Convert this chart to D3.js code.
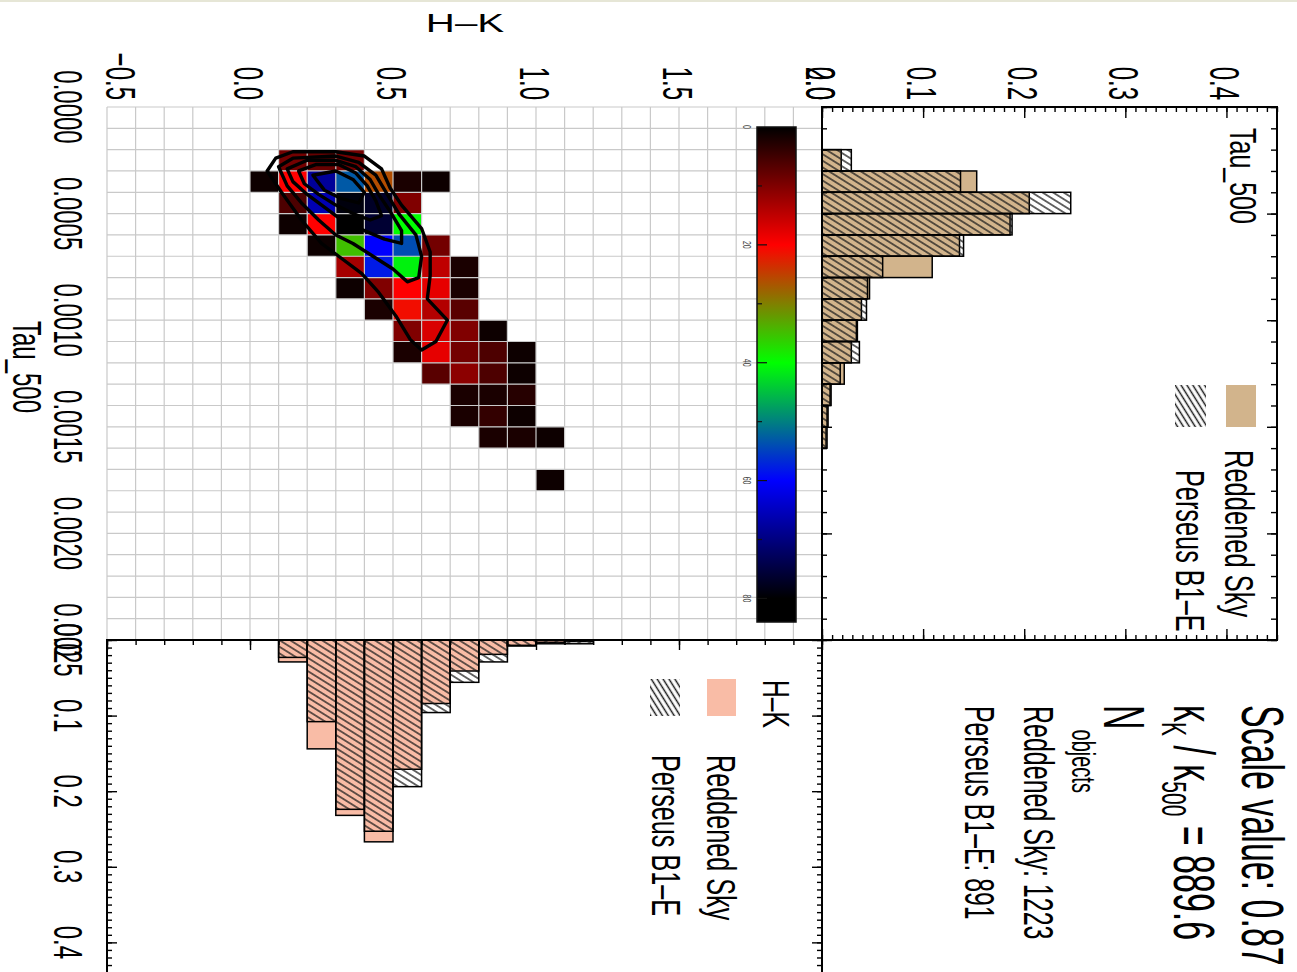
<!DOCTYPE html>
<html>
<head>
<meta charset="utf-8">
<script src="https://cdn.jsdelivr.net/npm/d3@7"></script>
<style>
body { margin: 0; background: #fff; }
svg { display: block; font-family: "Liberation Sans", Arial, sans-serif; }
</style>
</head>
<body>
<svg id="chart" width="1297" height="972"></svg>
<script>
// ---- data ----
// Tau_500 histogram (bin start, width 0.0001)
var tauBins = [0.0002, 0.0003, 0.0004, 0.0005, 0.0006, 0.0007, 0.0008, 0.0009, 0.0010, 0.0011, 0.0012, 0.0013, 0.0014, 0.0015];
var reddenedTau = [0.019, 0.153, 0.205, 0.186, 0.136, 0.109, 0.047, 0.039, 0.035, 0.029, 0.022, 0.009, 0.006, 0.004];
var perseusTau = [0.029, 0.137, 0.246, 0.188, 0.140, 0.060, 0.045, 0.044, 0.034, 0.037, 0.018, 0.008, 0.005, 0.005];

// H-K histogram (bin start, width 0.1)
var hkBins = [0.1, 0.2, 0.3, 0.4, 0.5, 0.6, 0.7, 0.8, 0.9, 1.0, 1.1];
var reddenedHK = [0.029, 0.144, 0.232, 0.267, 0.171, 0.084, 0.041, 0.019, 0.008, 0.003, 0.002];
var perseusHK = [0.023, 0.108, 0.224, 0.253, 0.194, 0.096, 0.056, 0.029, 0.007, 0.005, 0.005];

// 2d counts: rows = Tau_500 bin start, columns = H-K bin start
var heatTau = [0.0002, 0.0003, 0.0004, 0.0005, 0.0006, 0.0007, 0.0008, 0.0009, 0.0010, 0.0011, 0.0012, 0.0013, 0.0014, 0.0015, 0.0016, 0.0017];
var heatHK = [0.0, 0.1, 0.2, 0.3, 0.4, 0.5, 0.6, 0.7, 0.8, 0.9, 1.0];
var heatCounts = [
  [0,  9,  8,  9,  0,  0,  0,  0, 0, 0, 0],
  [1, 20, 68, 53, 26,  2,  1,  0, 0, 0, 0],
  [0,  6, 66, 79, 77, 10,  0,  0, 0, 0, 0],
  [0,  1, 20, 82, 76, 40,  0,  0, 0, 0, 0],
  [0,  0,  1, 35, 60, 54,  9,  0, 0, 0, 0],
  [0,  0,  0, 13, 58, 41, 15,  2, 0, 0, 0],
  [0,  0,  0,  1, 10, 20, 18,  2, 0, 0, 0],
  [0,  0,  0,  0,  2, 21, 14,  7, 0, 0, 0],
  [0,  0,  0,  0,  0, 10, 17, 10, 1, 0, 0],
  [0,  0,  0,  0,  0,  2, 18,  9, 6, 1, 0],
  [0,  0,  0,  0,  0,  0,  7, 11, 6, 1, 0],
  [0,  0,  0,  0,  0,  0,  0,  2, 2, 3, 0],
  [0,  0,  0,  0,  0,  0,  0,  2, 4, 1, 0],
  [0,  0,  0,  0,  0,  0,  0,  0, 2, 2, 1],
  [0,  0,  0,  0,  0,  0,  0,  0, 0, 0, 0],
  [0,  0,  0,  0,  0,  0,  0,  0, 0, 0, 1]
];

// contour levels, points as [H-K, Tau_500]
var contour1 = [[0.06,0.00030],[0.09,0.00024],[0.15,0.00021],[0.30,0.00021],[0.40,0.00023],[0.46,0.00029],[0.49,0.00038],[0.53,0.00046],[0.60,0.00057],[0.63,0.00068],[0.63,0.00079],[0.62,0.00090],[0.69,0.00100],[0.65,0.00110],[0.60,0.00114],[0.56,0.00109],[0.51,0.00098],[0.45,0.00087],[0.39,0.00078],[0.31,0.00070],[0.25,0.00064],[0.18,0.00053],[0.11,0.00040],[0.07,0.00032]];
var contour2 = [[0.10,0.00028],[0.15,0.00024],[0.30,0.00023],[0.38,0.00026],[0.44,0.00032],[0.48,0.00041],[0.52,0.00050],[0.58,0.00060],[0.60,0.00070],[0.59,0.00080],[0.55,0.00082],[0.50,0.00076],[0.43,0.00070],[0.36,0.00064],[0.30,0.00060],[0.24,0.00053],[0.18,0.00045],[0.13,0.00037]];
var contour3 = [[0.13,0.00029],[0.20,0.00025],[0.30,0.00025],[0.37,0.00028],[0.42,0.00034],[0.45,0.00041],[0.49,0.00049],[0.53,0.00058],[0.53,0.00064],[0.47,0.00062],[0.40,0.00058],[0.33,0.00054],[0.26,0.00047],[0.20,0.00041],[0.15,0.00035]];
var contour4 = [[0.17,0.00030],[0.23,0.00027],[0.31,0.00027],[0.37,0.00031],[0.41,0.00037],[0.44,0.00044],[0.46,0.00051],[0.42,0.00053],[0.36,0.00050],[0.30,0.00046],[0.24,0.00041],[0.19,0.00036]];
var contour5 = [[0.22,0.00032],[0.30,0.00030],[0.36,0.00034],[0.40,0.00040],[0.38,0.00045],[0.32,0.00043],[0.26,0.00039]];

var hkTicks = [-0.5, 0.0, 0.5, 1.0, 1.5, 2.0];
var tauTicks = [0.0000, 0.0005, 0.0010, 0.0015, 0.0020, 0.0025];
var histTicks = [0.0, 0.1, 0.2, 0.3, 0.4];
var colorTicks = [0, 20, 40, 60, 80];

// ---- scales ----
var hkX = d3.scaleLinear().domain([-0.5, 2.0]).range([107, 822]);
var tauY = d3.scaleLinear().domain([0, 0.0025]).range([107, 640]);
var tauHistX = d3.scaleLinear().domain([0, 0.45]).range([822, 1277]);
var hkHistY = d3.scaleLinear().domain([0, 0.44]).range([640, 972.6]);
var colorY = d3.scaleLinear().domain([0, 84]).range([127, 622]);
var color = d3.scaleLinear()
    .domain([0, 20, 40, 60, 80, 84])
    .range(["#000000", "#ff0000", "#00ff00", "#0000ff", "#000000", "#000000"]);

var svg = d3.select("#chart");
var defs = svg.append("defs");

defs.append("pattern")
    .attr("id", "hatch")
    .attr("patternUnits", "userSpaceOnUse")
    .attr("width", 10).attr("height", 5.6)
    .attr("patternTransform", "rotate(32)")
  .append("line")
    .attr("x1", 0).attr("y1", 2.8).attr("x2", 10).attr("y2", 2.8)
    .attr("stroke", "#1a1a1a").attr("stroke-width", 1.3);

defs.append("pattern")
    .attr("id", "hatchLegend")
    .attr("patternUnits", "userSpaceOnUse")
    .attr("width", 10).attr("height", 5)
    .attr("patternTransform", "rotate(58)")
  .append("line")
    .attr("x1", 0).attr("y1", 2.5).attr("x2", 10).attr("y2", 2.5)
    .attr("stroke", "#1a1a1a").attr("stroke-width", 1.5);

var grad = defs.append("linearGradient")
    .attr("id", "cbar").attr("x1", 0).attr("y1", 0).attr("x2", 0).attr("y2", 1);
grad.selectAll("stop")
    .data(d3.range(0, 85, 2))
    .enter().append("stop")
    .attr("offset", d => d / 84)
    .attr("stop-color", d => color(d));

// thin frame line along the top of the page
svg.append("line").attr("x1", 0).attr("x2", 1297).attr("y1", 1).attr("y2", 1)
    .attr("stroke", "#e6e6d6").attr("stroke-width", 2);

// ---- heat map ----
var cells = [];
heatCounts.forEach((row, i) => row.forEach((v, j) => {
    if (v > 0) cells.push({tau: heatTau[i], hk: heatHK[j], v: v});
}));

svg.append("g").selectAll("rect")
    .data(cells)
    .enter().append("rect")
    .attr("x", d => hkX(d.hk))
    .attr("y", d => tauY(d.tau))
    .attr("width", d => hkX(d.hk + 0.1) - hkX(d.hk))
    .attr("height", d => tauY(d.tau + 0.0001) - tauY(d.tau))
    .attr("fill", d => color(d.v));

// grid
var grid = svg.append("g").attr("stroke", "#c9c9c9").attr("stroke-width", 1.2);
grid.selectAll(".v")
    .data(d3.range(26).map(i => -0.5 + i * 0.1))
    .enter().append("line")
    .attr("x1", d => hkX(d)).attr("x2", d => hkX(d))
    .attr("y1", tauY(0)).attr("y2", tauY(0.0025));
grid.selectAll(".h")
    .data(d3.range(26).map(i => i * 0.0001))
    .enter().append("line")
    .attr("y1", d => tauY(d)).attr("y2", d => tauY(d))
    .attr("x1", hkX(-0.5)).attr("x2", hkX(2.0));

// contours
var line = d3.line()
    .x(d => hkX(d[0]))
    .y(d => tauY(d[1]))
    .curve(d3.curveLinearClosed);
svg.append("g").selectAll("path")
    .data([contour1, contour2, contour3, contour4, contour5])
    .enter().append("path")
    .attr("d", line)
    .attr("fill", "none")
    .attr("stroke", "#000")
    .attr("stroke-width", 3.4)
    .attr("stroke-linejoin", "round");

// colour bar
svg.append("rect")
    .attr("x", 757).attr("y", colorY(0))
    .attr("width", 39).attr("height", colorY(84) - colorY(0))
    .attr("fill", "url(#cbar)")
    .attr("stroke", "#111").attr("stroke-width", 1.5);
svg.append("g").selectAll("line")
    .data(d3.range(10, 84, 10))
    .enter().append("line")
    .attr("x1", 757).attr("x2", d => d % 20 ? 762 : 767)
    .attr("y1", d => colorY(d)).attr("y2", d => colorY(d))
    .attr("stroke", "#111").attr("stroke-width", 1.2);

// rotated text helper (the figure reads top to bottom)
function vtext(x, y, str, size, anchor, s) {
    return svg.append("text")
        .attr("transform", "translate(" + x + "," + y + ") rotate(90) scale(1," + s + ")")
        .attr("font-size", size)
        .attr("text-anchor", anchor)
        .attr("fill", "#000")
        .text(str);
}

colorTicks.forEach(d => vtext(743, colorY(d), d, 7, "middle", 1.6).attr("fill", "#444"));

// ---- Tau_500 histogram ----
var rowH = tauY(0.0001) - tauY(0);
svg.append("g").selectAll("rect")
    .data(tauBins)
    .enter().append("rect")
    .attr("x", tauHistX(0))
    .attr("y", d => tauY(d))
    .attr("width", (d, i) => tauHistX(reddenedTau[i]) - tauHistX(0))
    .attr("height", rowH)
    .attr("fill", "#d2b48c")
    .attr("stroke", "#000").attr("stroke-width", 1.5);
svg.append("g").selectAll("rect")
    .data(tauBins)
    .enter().append("rect")
    .attr("x", tauHistX(0))
    .attr("y", d => tauY(d))
    .attr("width", (d, i) => tauHistX(perseusTau[i]) - tauHistX(0))
    .attr("height", rowH)
    .attr("fill", "url(#hatch)")
    .attr("stroke", "#000").attr("stroke-width", 1.5);

// ---- H-K histogram ----
var colW = hkX(0.1) - hkX(0);
svg.append("g").selectAll("rect")
    .data(hkBins)
    .enter().append("rect")
    .attr("x", d => hkX(d))
    .attr("y", hkHistY(0))
    .attr("width", colW)
    .attr("height", (d, i) => hkHistY(reddenedHK[i]) - hkHistY(0))
    .attr("fill", "#f9bca6")
    .attr("stroke", "#000").attr("stroke-width", 1.5);
svg.append("g").selectAll("rect")
    .data(hkBins)
    .enter().append("rect")
    .attr("x", d => hkX(d))
    .attr("y", hkHistY(0))
    .attr("width", colW)
    .attr("height", (d, i) => hkHistY(perseusHK[i]) - hkHistY(0))
    .attr("fill", "url(#hatch)")
    .attr("stroke", "#000").attr("stroke-width", 1.5);

// ---- frames and inward ticks ----
function ticks(axis, tx, ty, values, size) {
    var g = svg.append("g")
        .attr("transform", "translate(" + tx + "," + ty + ")")
        .call(axis.tickValues(values).tickSize(size).tickFormat(""));
    g.select(".domain").remove();
    g.selectAll("line").attr("stroke", "#000").attr("stroke-width", 1.4);
}
var minorHist = d3.range(0, 46).map(i => i * 0.01);
var majorHist = d3.range(0, 5).map(i => i * 0.1);
var minorTau = d3.range(0, 26).map(i => i * 0.0001);
var majorTau = d3.range(0, 6).map(i => i * 0.0005);
var minorHK = d3.range(0, 26).map(i => -0.5 + i * 0.1);
var majorHK = hkTicks;
var minorHK2 = d3.range(0, 45).map(i => i * 0.01);

// Tau histogram box
ticks(d3.axisBottom(tauHistX), 0, 107, minorHist, 5);
ticks(d3.axisBottom(tauHistX), 0, 107, majorHist, 11);
ticks(d3.axisTop(tauHistX), 0, 640, minorHist, 5);
ticks(d3.axisTop(tauHistX), 0, 640, majorHist, 11);
ticks(d3.axisRight(tauY), 822, 0, minorTau, 5);
ticks(d3.axisRight(tauY), 822, 0, majorTau, 10);
ticks(d3.axisLeft(tauY), 1277, 0, minorTau, 6);
ticks(d3.axisLeft(tauY), 1277, 0, majorTau, 10);
svg.append("rect")
    .attr("x", 822).attr("y", 107).attr("width", 455).attr("height", 533)
    .attr("fill", "none").attr("stroke", "#000").attr("stroke-width", 2);

// H-K histogram box
ticks(d3.axisBottom(hkX), 0, 640, minorHK, 5);
ticks(d3.axisBottom(hkX), 0, 640, majorHK, 10);
ticks(d3.axisRight(hkHistY), 107, 0, minorHK2, 5);
ticks(d3.axisRight(hkHistY), 107, 0, majorHist, 10);
ticks(d3.axisLeft(hkHistY), 822, 0, minorHK2, 5);
ticks(d3.axisLeft(hkHistY), 822, 0, majorHist, 10);
svg.append("path")
    .attr("d", "M107,980V640H822V980")
    .attr("fill", "none").attr("stroke", "#000").attr("stroke-width", 2);

// ---- tick labels ----
hkTicks.forEach((d, i) => vtext(hkX(d) - 16 + (i === 0 ? 15 : 0), 100, d3.format(".1f")(d).replace("-", "\u2212"), 24, "end", 1.8));
histTicks.forEach(d => vtext(tauHistX(d) - 16, 100, d3.format(".1f")(d), 24, "end", 1.8));
tauTicks.forEach(d => vtext(54, tauY(d), d3.format(".4f")(d), 24, "middle", 1.7));
histTicks.forEach(d => vtext(54, hkHistY(d), d3.format(".1f")(d), 24, "middle", 1.7));

// axis titles
vtext(13, 367, "Tau_500", 24, "middle", 1.7);
svg.append("text")
    .attr("transform", "translate(465,32) scale(1.55,1)")
    .attr("font-size", 26).attr("text-anchor", "middle")
    .text("H\u2013K");

// ---- legends ----
vtext(1230, 128, "Tau_500", 25, "start", 1.5);
svg.append("rect").attr("x", 1226).attr("y", 385).attr("width", 30).attr("height", 42).attr("fill", "#d2b48c");
svg.append("rect").attr("x", 1175).attr("y", 385).attr("width", 31).attr("height", 42).attr("fill", "url(#hatchLegend)");
vtext(1225, 450, "Reddened Sky", 25.5, "start", 1.6);
vtext(1176, 470, "Perseus B1\u2013E", 25.3, "start", 1.6);

vtext(763, 680, "H\u2013K", 24.7, "start", 1.5);
svg.append("rect").attr("x", 707).attr("y", 679).attr("width", 29).attr("height", 37).attr("fill", "#f9bca6");
svg.append("rect").attr("x", 650).attr("y", 679).attr("width", 30).attr("height", 37).attr("fill", "url(#hatchLegend)");
vtext(707, 755, "Reddened Sky", 25.2, "start", 1.6);
vtext(652, 755, "Perseus B1\u2013E", 25.2, "start", 1.6);

// ---- text panel ----
vtext(1242, 705, "Scale value: 0.87", 34, "start", 1.75);
var k = vtext(1174, 705, "", 34, "start", 1.7);
k.append("tspan").text("\u03ba");
k.append("tspan").attr("font-size", 21).attr("dy", 7).text("K");
k.append("tspan").attr("dy", -7).text(" / \u03ba");
k.append("tspan").attr("font-size", 21).attr("dy", 7).text("500");
k.append("tspan").attr("dy", -7).text(" = 889.6");
var n = vtext(1104, 705, "", 34, "start", 1.7);
n.append("tspan").text("N");
n.append("tspan").attr("font-size", 20).attr("dy", 19).text("objects");
vtext(1024, 706, "Reddened Sky: 1223", 25, "start", 1.7);
vtext(965, 706, "Perseus B1\u2013E: 891", 24.8, "start", 1.7);
</script>
</body>
</html>
